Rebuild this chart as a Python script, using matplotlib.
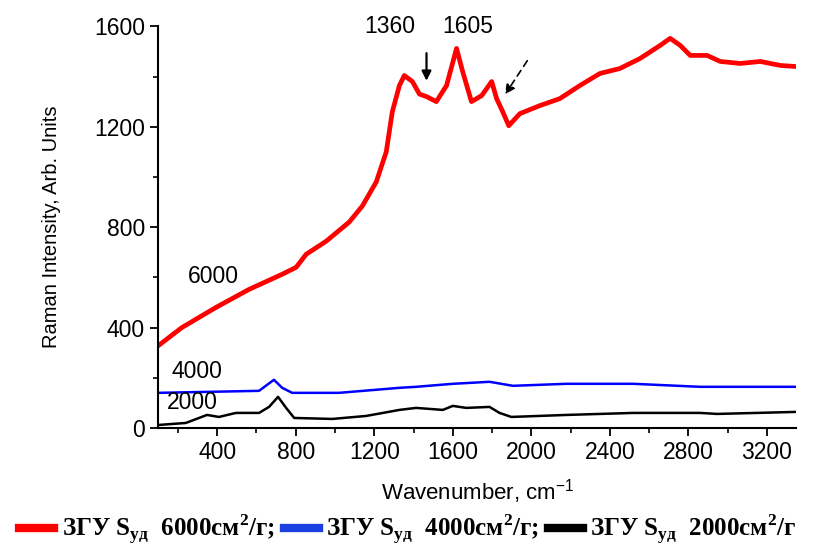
import matplotlib.pyplot as plt
from matplotlib.ticker import MultipleLocator
from matplotlib.lines import Line2D

# values (wavenumber, intensity)
x_6000 = [100, 220, 393, 562, 730, 802, 853, 955, 1072, 1139, 1210, 1261, 1292,
          1328, 1353, 1394, 1430, 1466, 1516, 1568, 1619, 1650, 1695, 1747, 1798,
          1823, 1854, 1885, 1941, 2043, 2145, 2247, 2349, 2451, 2554, 2656, 2707,
          2758, 2809, 2895, 2962, 3064, 3166, 3269, 3345]
y_6000 = [328, 400, 480, 552, 612, 640, 692, 744, 820, 884, 980, 1100, 1260,
          1364, 1404, 1380, 1330, 1320, 1300, 1364, 1512, 1420, 1300, 1324, 1380,
          1312, 1260, 1204, 1252, 1284, 1312, 1364, 1412, 1432, 1472, 1524, 1552,
          1524, 1484, 1484, 1460, 1452, 1460, 1444, 1440]

x_4000 = [100, 613, 689, 731, 782, 1021, 1328, 1413, 1600, 1787, 1906, 2180,
          2519, 2860, 3345]
y_4000 = [140, 148, 192, 160, 140, 140, 160, 164, 176, 184, 168, 176, 176, 164, 164]

x_2000 = [100, 240, 348, 409, 495, 613, 664, 710, 751, 792, 986, 1159, 1328,
          1413, 1549, 1600, 1668, 1787, 1838, 1898, 2180, 2519, 2860, 2946, 3345]
y_2000 = [12, 20, 52, 44, 60, 60, 84, 124, 80, 40, 36, 48, 72, 80, 72, 88, 80,
          84, 60, 44, 52, 60, 60, 56, 64]

labels = ['ЗГУ S$_{\\mathregular{уд}}$  6000см$^{\\mathregular{2}}$/г;',
          'ЗГУ S$_{\\mathregular{уд}}$  4000см$^{\\mathregular{2}}$/г;',
          'ЗГУ S$_{\\mathregular{уд}}$  2000см$^{\\mathregular{2}}$/г']

plt.rcParams['font.family'] = ['Liberation Sans', 'DejaVu Sans']

fig = plt.figure(figsize=(8.16, 5.48), dpi=100)
ax = fig.add_axes([0.194, 0.219, 0.782, 0.733])

ax.plot(x_6000, y_6000, color='#ff0000', lw=3.4)
ax.plot(x_4000, y_4000, color='#0000ff', lw=1.8)
ax.plot(x_2000, y_2000, color='black', lw=1.8)

ax.set_xlim(100, 3350)
ax.set_ylim(0, 1600)
ax.xaxis.set_major_locator(MultipleLocator(400))
ax.xaxis.set_minor_locator(MultipleLocator(200))
ax.yaxis.set_major_locator(MultipleLocator(400))
ax.yaxis.set_minor_locator(MultipleLocator(200))
ax.spines['top'].set_visible(False)
ax.spines['right'].set_visible(False)
ax.spines['left'].set_linewidth(1.5)
ax.spines['bottom'].set_linewidth(1.5)
ax.tick_params(which='major', direction='out', length=6, width=1.3, labelsize=16.5)
ax.tick_params(which='minor', direction='out', length=3.5, width=1.2)

ax.set_xlabel('Wavenumber, cm$^{\\mathregular{-1}}$', fontsize=16, labelpad=9)
ax.set_ylabel('Raman Intensity, Arb. Units', fontsize=14.5, labelpad=24)

# peak labels and arrows
ax.text(1277, 1600, '1360', fontsize=16.5, ha='center', va='center', clip_on=False)
ax.text(1675, 1600, '1605', fontsize=16.5, ha='center', va='center', clip_on=False)
ax.annotate('', xy=(1466, 1372), xytext=(1466, 1504),
            arrowprops=dict(arrowstyle='-|>', color='black', lw=1.6, mutation_scale=14))
ax.annotate('', xy=(1859, 1320), xytext=(1987, 1472),
            arrowprops=dict(arrowstyle='-|>', color='black', lw=1.2, ls=(0, (4, 3)),
                            mutation_scale=14))

ax.text(383, 604, '6000', fontsize=16.5, ha='center', va='center')
ax.text(296, 224, '4000', fontsize=16.5, ha='center', va='center')
ax.text(271, 100, '2000', fontsize=16.5, ha='center', va='center')

handles = [Line2D([], [], color='#ff0000', lw=6),
           Line2D([], [], color='#1a40e0', lw=6),
           Line2D([], [], color='black', lw=6)]
fig.legend(handles, labels, loc='center', bbox_to_anchor=(0.5, 0.033), ncol=3,
           frameon=False, handlelength=1.4, handletextpad=0.3, columnspacing=0.35,
           prop={'family': 'Liberation Serif', 'weight': 'bold', 'size': 18})

plt.savefig('out.png')
plt.close()
